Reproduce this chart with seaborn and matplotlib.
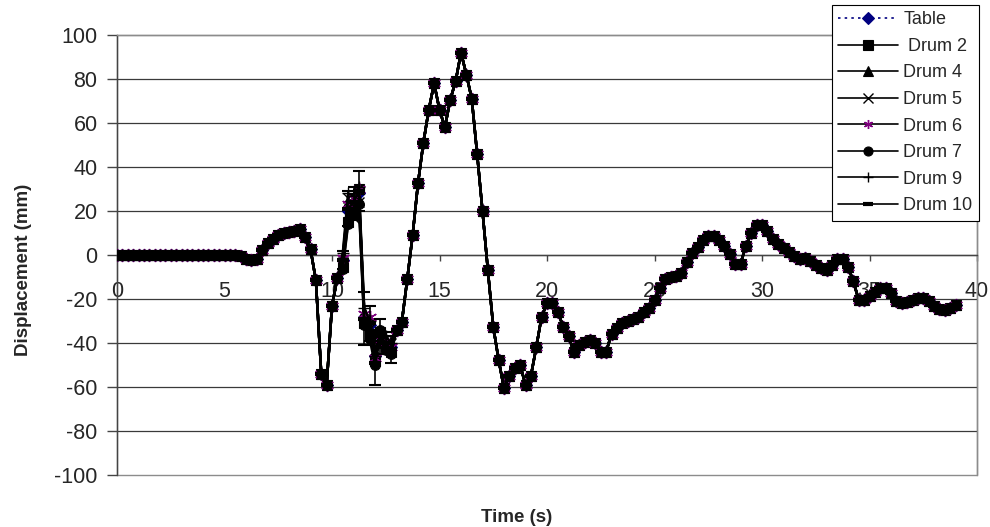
import numpy as np
import pandas as pd
import matplotlib
matplotlib.use("Agg")
import matplotlib.pyplot as plt
from matplotlib.patches import Rectangle
import seaborn as sns

# ---------------- data ----------------
time_s = [round(0.25 * i, 2) for i in range(157)]  # 0.00 ... 39.00 s sampling grid

table_mm = [
    0, 0, 0, 0, 0, 0, 0, 0, 0, 0, 0, 0, 0, 0, 0, 0, 0, 0, 0, 0, 0, 0, 0,   # 0 - 5.5
    -0.5, -2, -2.3, -2, 2.5, 5.5, 7.5, 9, 9.8, 10.5, 11, 11.8, 8, 2.7,      # 5.75 - 9.0
    -11.5, -54, -59, -23, -10.5, -2.3, 20, 22, 28, -28, -32, -46, -37, -40, # 9.25 - 12.5
    -42, -34, -30.3, -11, 9, 32.6, 51, 66, 78, 66, 58, 70.5, 79, 92, 82,    # 12.75 - 16.25
    71, 46, 20, -7, -32.6, -47.7, -60.6, -55, -51.5, -50, -59, -55, -42,    # 16.5 - 19.5
    -28, -22, -22, -25.8, -32.5, -37, -44, -41, -39.5, -38.8, -40, -44,     # 19.75 - 22.5
    -44, -36, -33, -31, -30, -29, -28, -26, -24, -20.5, -15, -11, -10,      # 22.75 - 25.75
    -9.5, -8, -3, 1, 3.5, 7, 8.8, 8.5, 7, 4, 0.5, -4, -4, 4, 10, 13.5,      # 26.0 - 29.75
    13.8, 11, 7.5, 5, 3, 1.5, -0.5, -2, -1.5, -2.5, -4.5, -6, -6.8, -4.5,   # 30.0 - 33.25
    -2, -2, -5.3, -12, -20.5, -20.5, -18.5, -17, -15.2, -15.2, -17.4, -21,  # 33.5 - 36.25
    -22, -21.5, -20.5, -19.7, -19.7, -21, -23, -24.5, -25, -24.2, -22.7,    # 36.5 - 39.0
]

# the drums follow the table except in the 10.5 - 12.75 s window, where they spread
spread_start_index = 42          # t = 10.5 s
drum2_spread = [-3, -5, -4, 2, -3, -4, -2, 2, -2, -2]
drum4_spread = [2, 4, 3, -3, 2, 3, 2, -3, 2, 1]
drum5_spread = [-1, 6, -5, -4, -2, -1, 3, 1, -1, 2]
drum6_spread = [1, 3, 4, 2, 1, 4, -1, -1, 1, 0]
drum7_spread = [-4, -6, -2, -5, -4, -6, -4, 3, -3, -3]
drum9_spread = [3, 8, 5, 3, 4, 2, 0, -2, 3, 2]
drum10_spread = [0, 1, 2, 1, -1, 1, -3, 0, 0, -1]
drum10_error = [4, 8, 7, 9, 12, 8, 10, 8, 5, 6]

series_names = ["Table", " Drum 2", "Drum 4", "Drum 5", "Drum 6", "Drum 7", "Drum 9", "Drum 10"]
spreads = [None, drum2_spread, drum4_spread, drum5_spread, drum6_spread,
           drum7_spread, drum9_spread, drum10_spread]

rows = []
for name, spread in zip(series_names, spreads):
    vals = list(table_mm)
    if spread is not None:
        for k, d in enumerate(spread):
            vals[spread_start_index + k] = table_mm[spread_start_index + k] + d
    for t, v in zip(time_s, vals):
        rows.append({"series": name, "time": t, "disp": v})
df = pd.DataFrame(rows)

# ---------------- style ----------------
sns.set_style("white")
plt.rcParams["font.family"] = ["Liberation Sans", "DejaVu Sans"]
plt.rcParams["axes.unicode_minus"] = False

fig = plt.figure(figsize=(9.9, 5.27), dpi=100)
ax = fig.add_axes([117 / 990, 1 - 475 / 527, 860 / 990, 440 / 527])

navy = "#000080"
purple = "#800080"
styles = {
    "Table":   dict(color=navy, linestyle=(0, (1.5, 2.5)), marker="D", ms=6, mfc=navy, mec=navy, mew=0.8),
    " Drum 2": dict(color="black", linestyle="-", marker="s", ms=7, mfc="black", mec="black", mew=0.8),
    "Drum 4":  dict(color="black", linestyle="-", marker="^", ms=7.5, mfc="black", mec="black", mew=0.8),
    "Drum 5":  dict(color="black", linestyle="-", marker="x", ms=7, mfc="black", mec="black", mew=1.0),
    "Drum 6":  dict(color="black", linestyle="-", marker=(6, 2, 0), ms=9.5, mfc=purple, mec=purple, mew=1.0),
    "Drum 7":  dict(color="black", linestyle="-", marker="o", ms=7, mfc="black", mec="black", mew=0.8),
    "Drum 9":  dict(color="black", linestyle="-", marker="+", ms=8, mfc="black", mec="black", mew=1.0),
    "Drum 10": dict(color="black", linestyle="-", marker="_", ms=8, mfc="black", mec="black", mew=3.0),
}

for name in series_names:
    sub = df[df["series"] == name]
    st = styles[name]
    sns.lineplot(data=sub, x="time", y="disp", ax=ax, estimator=None, sort=False,
                 color=st["color"], linestyle=st["linestyle"], linewidth=1.8,
                 marker=st["marker"], markersize=st["ms"], markerfacecolor=st["mfc"],
                 markeredgecolor=st["mec"], markeredgewidth=st["mew"], label=name, zorder=3)

# error bars on Drum 10 in the spread window
d10 = df[df["series"] == "Drum 10"].reset_index(drop=True)
win = d10.iloc[spread_start_index:spread_start_index + len(drum10_error)]
ax.errorbar(win["time"], win["disp"], yerr=drum10_error, fmt="none", ecolor="black",
            elinewidth=1.2, capsize=4, capthick=1.5, zorder=4)

# ---------------- axes ----------------
ax.set_xlim(0, 40)
ax.set_ylim(-100, 100)
ax.set_xticks(range(0, 41, 5))
ax.set_yticks(range(-100, 101, 20))
for yv in range(-80, 100, 20):
    ax.axhline(yv, color="#3a3a3a", linewidth=0.9, zorder=1)

ax.spines["bottom"].set_position(("data", 0))
ax.spines["bottom"].set_color("#444444")
ax.spines["bottom"].set_linewidth(1.0)
ax.spines["left"].set_color("#444444")
ax.spines["left"].set_linewidth(1.0)
for s in ["top", "right"]:
    ax.spines[s].set_color("#8c8c8c")
    ax.spines[s].set_linewidth(1.0)
ax.add_patch(Rectangle((0, 0), 1, 1, transform=ax.transAxes, fill=False,
                       ec="#8c8c8c", lw=1.0, zorder=0.5, clip_on=False))

ax.tick_params(axis="x", direction="out", length=4, width=1, color="#444444",
               pad=15, labelsize=15.5, bottom=True)
ax.tick_params(axis="y", direction="out", length=7, width=1, color="#444444",
               pad=7, labelsize=15.5, left=True)

ax.set_xlabel("Time (s)", fontsize=13.5, fontweight="bold")
ax.set_ylabel("Displacement (mm)", fontsize=13.5, fontweight="bold")
ax.xaxis.set_label_coords(0.465, -0.078)
ax.yaxis.set_label_coords(-0.099, 0.466)

# ---------------- legend ----------------
handles, labels = ax.get_legend_handles_labels()
if ax.get_legend() is not None:
    ax.get_legend().remove()
leg = fig.legend(handles, labels, loc="upper left", bbox_to_anchor=(832 / 990, 1 - 5 / 527),
                 fontsize=13, frameon=True, fancybox=False, framealpha=1,
                 edgecolor="black", handlelength=3.3, handletextpad=0.3,
                 labelspacing=0.53, borderpad=0.35, borderaxespad=0)
leg.get_frame().set_linewidth(0.8)
for h in leg.legend_handles:
    h.set_linewidth(1.2)
    h.set_markersize(6.5)

fig.savefig("out.png", dpi=100)
